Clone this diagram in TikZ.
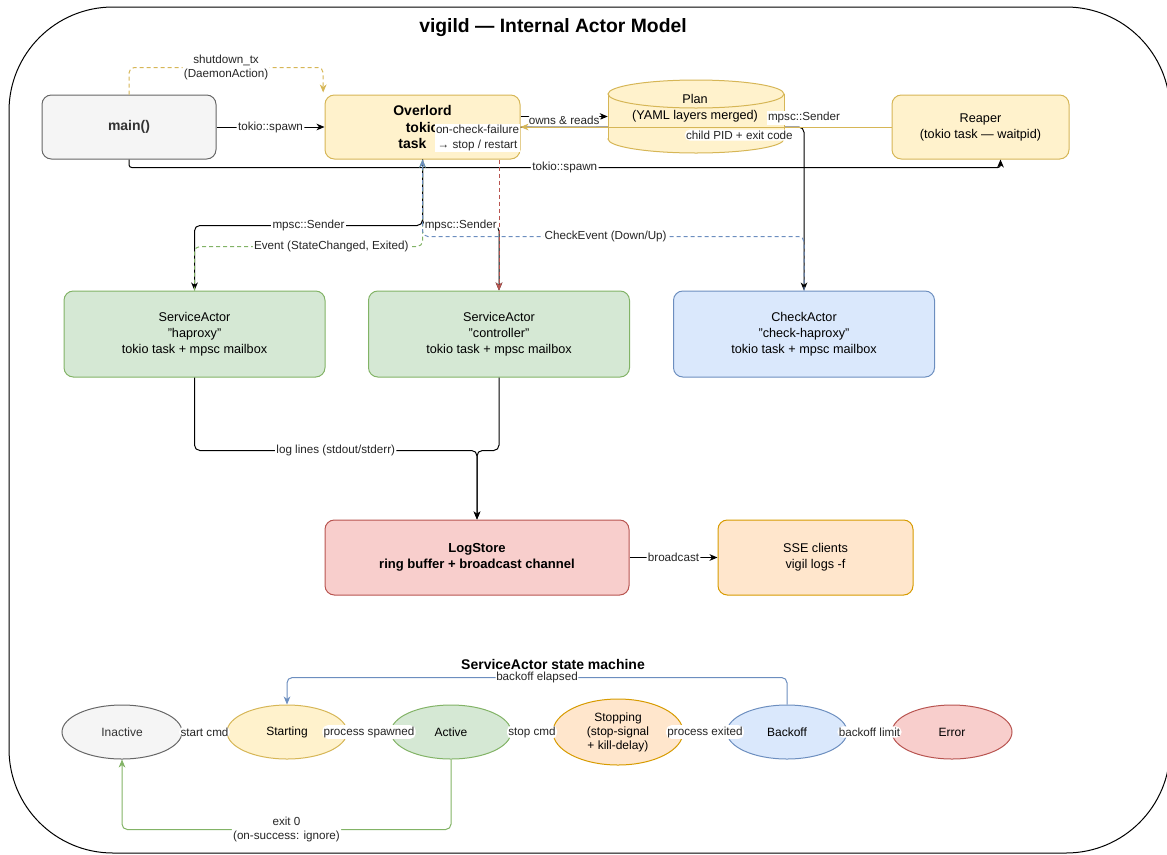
\documentclass[tikz,border=0pt]{standalone}
\usepackage{fontspec}
\setmainfont{Liberation Sans}
\usetikzlibrary{arrows.meta,shapes.geometric}
\definecolor{grayfill}{HTML}{F5F5F5}
\definecolor{graydraw}{HTML}{666666}
\definecolor{yelfill}{HTML}{FFF2CC}
\definecolor{yeldraw}{HTML}{D6B656}
\definecolor{grnfill}{HTML}{D5E8D4}
\definecolor{grndraw}{HTML}{82B366}
\definecolor{blufill}{HTML}{DAE8FC}
\definecolor{bludraw}{HTML}{6C8EBF}
\definecolor{redfill}{HTML}{F8CECC}
\definecolor{reddraw}{HTML}{B85450}
\definecolor{orafill}{HTML}{FFE6CC}
\definecolor{oradraw}{HTML}{D79B00}
\definecolor{txtgray}{HTML}{333333}
\tikzset{line/.style={draw, line width=0.75pt, rounded corners=4pt, -{Stealth[length=6pt,width=5pt,inset=1.8pt]}}}
\tikzset{dashline/.style={dash pattern=on 3pt off 2.25pt}}

\begin{document}
\begin{tikzpicture}[x=0.75pt, y=-0.75pt, font=\fontsize{9.5}{12}\selectfont]
\tikzstyle{block} = [rectangle, rounded corners=7pt, draw, line width=0.75pt, align=center]
\tikzstyle{smstate} = [ellipse, draw, line width=0.75pt, inner sep=0pt, minimum width=90pt, minimum height=40.5pt, align=center, font=\fontsize{9}{10.5}\selectfont]
\tikzstyle{lbl} = [fill=white, inner sep=1pt, text=black!85, font=\fontsize{8.75}{11}\selectfont]

\useasboundingbox (0,0) rectangle (1167,854);
\draw [line width=0.75pt, rounded corners=78pt] (9,7) rectangle (1170,853);
\node [font=\bfseries\fontsize{14.5}{16}\selectfont] (title) at (553,28) {vigild — Internal Actor Model};

\node [block, fill=grayfill, draw=graydraw, text=txtgray, font=\bfseries\fontsize{10.5}{12}\selectfont, minimum width=130.5pt, minimum height=48pt] (main) at (129,127) {main()};
\node [block, fill=yelfill, draw=yeldraw, font=\bfseries\fontsize{10.5}{12.5}\selectfont, minimum width=146.25pt, minimum height=48pt] (overlord) at (422.5,127) {Overlord\\tokio\hspace*{15pt}\\task\hspace*{15pt}};
\node [block, fill=yelfill, draw=yeldraw, minimum width=132.75pt, minimum height=48pt] (reaper) at (980.5,127) {Reaper\\(tokio task — waitpid)};
\node [block, fill=grnfill, draw=grndraw, minimum width=195.75pt, minimum height=64.5pt] (svc_haproxy) at (194.5,334) {ServiceActor\\"haproxy"\\tokio task + mpsc mailbox};
\node [block, fill=grnfill, draw=grndraw, minimum width=195.75pt, minimum height=64.5pt] (svc_controller) at (499,334) {ServiceActor\\"controller"\\tokio task + mpsc mailbox};
\node [block, fill=blufill, draw=bludraw, minimum width=195.75pt, minimum height=64.5pt] (check_haproxy) at (804,334) {CheckActor\\"check-haproxy"\\tokio task + mpsc mailbox};
\node [block, fill=redfill, draw=reddraw, font=\bfseries\fontsize{9.8}{12}\selectfont, minimum width=228pt, minimum height=56.25pt] (logstore) at (477,557.5) {LogStore\\ring buffer + broadcast channel};
\node [block, fill=orafill, draw=oradraw, minimum width=146.25pt, minimum height=56.25pt] (sse) at (815.5,557.5) {SSE clients\\vigil logs -f};

% sender for the check actor runs behind the plan
\path [line] (overlord.east) -| (check_haproxy.north);

% plan cylinder
\node [minimum width=132pt, minimum height=54.75pt, inner sep=0pt] (plan) at (696,116.5) {};
\draw [draw=yeldraw, fill=yelfill, line width=0.75pt] (696,139) ellipse [x radius=66pt, y radius=10.5pt];
\fill [yelfill] (608,94) rectangle (784,139);
\draw [draw=yeldraw, line width=0.75pt] (608,94) -- (608,139) (784,94) -- (784,139);
\draw [draw=yeldraw, fill=yelfill, line width=0.75pt] (696,94) ellipse [x radius=66pt, y radius=10.5pt];
\node [align=center] (plan_text) at (695,108.5) {Plan\\(YAML layers merged)};

\path [line, draw=yeldraw] (reaper.west) -- node[lbl, pos=0.41, below=1.5pt]{child PID + exit code} (overlord.east);
\path [line] (plan.west -| overlord.east) -- node[lbl, yshift=-3pt]{owns \& reads} (plan.west);
\node [lbl, above=1.5pt] (check_sender) at (overlord.east -| check_haproxy.north) {mpsc::Sender};

\path [line] (main.east) -- node[lbl]{tokio::spawn} (overlord.west);
\path [line, dashline, draw=yeldraw] (main.north) -- ++(0,-27) -| node[lbl, pos=0.25, align=center]{shutdown\_tx\\(DaemonAction)} ([xshift=-1pt, yshift=1.5pt]overlord.north west);
\path [line, rounded corners=2pt] (main.south) -- ++(0,8) -| node[lbl, pos=0.25]{tokio::spawn} ([xshift=15pt]reaper.south);

\path [line] (overlord.south) -- ++(0,66) -| node[lbl, pos=0.25]{mpsc::Sender} (svc_haproxy.north);
\path [line] (overlord.south) -- ++(0,66) -| node[lbl, pos=0.25]{mpsc::Sender} (svc_controller.north);
\path [line, dashline, draw=grndraw] (svc_haproxy.north) -- ++(0,-44) -| node[lbl, pos=0.3]{Event (StateChanged, Exited)} (overlord.south);
\path [line, dashline, draw=bludraw] (check_haproxy.north) -- ++(0,-54) -| node[lbl, pos=0.26]{CheckEvent (Down/Up)} (overlord.south);
\path [line, dashline, draw=reddraw] (overlord.south -| svc_controller.north) -- (svc_controller.north);
\node [lbl, align=center] (failure_note) at (477.5,138) {on-check-failure\\→ stop / restart};

\path [line] (svc_haproxy.south) -- ++(0,73) -| node[lbl, pos=0.25]{log lines (stdout/stderr)} (logstore.north);
\path [line] (svc_controller.south) -- ++(0,73) -| (logstore.north);
\path [line] (logstore.east) -- node[lbl]{broadcast} (sse.west);

% state machine
\node [smstate, fill=grayfill, draw=graydraw, text=txtgray] (inactive) at (122,732) {Inactive};
\node [smstate, fill=yelfill, draw=yeldraw] (starting) at (287,732) {Starting};
\node [smstate, fill=grnfill, draw=grndraw] (active) at (451,732) {Active};
\node [smstate, fill=orafill, draw=oradraw, minimum width=97.5pt, minimum height=49.5pt] (stopping) at (618,732) {Stopping\\(stop-signal\\+ kill-delay)};
\node [smstate, fill=blufill, draw=bludraw] (backoff) at (787,732) {Backoff};
\node [smstate, fill=redfill, draw=reddraw] (error) at (952,732) {Error};

\path [line] (inactive) -- node[lbl]{start cmd} (starting);
\path [line] (starting) -- node[lbl]{process spawned} (active);
\path [line] (active) -- node[lbl]{stop cmd} (stopping);
\path [line] (stopping) -- node[lbl]{process exited} (backoff);
\path [line] (backoff) -- node[lbl]{backoff limit} (error);
\path [line, draw=bludraw] (backoff.north) -- ++(0,-27) -| node[lbl, pos=0.25, inner sep=0.5pt]{backoff elapsed} (starting.north);
\path [line, draw=grndraw] (active.south) -- ++(0,70) -| node[lbl, pos=0.25, align=center]{exit 0\\(on-success: ignore)} (inactive.south);

\node [font=\bfseries\fontsize{10.5}{12}\selectfont] (sm_title) at (553,664) {ServiceActor state machine};

\end{tikzpicture}
\end{document}
